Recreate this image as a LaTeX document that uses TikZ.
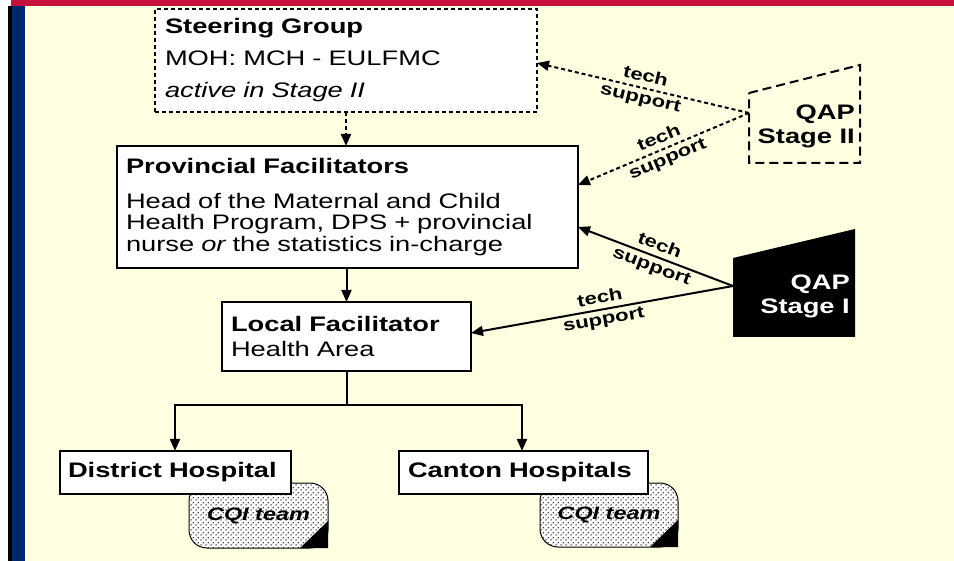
\documentclass[tikz,border=0pt]{standalone}
\usepackage{fontspec}
\setmainfont{Liberation Sans}[FakeStretch=1.3]
\usetikzlibrary{arrows.meta,patterns.meta}
\definecolor{cream}{RGB}{255,255,225}
\definecolor{barred}{RGB}{200,16,60}
\definecolor{navy}{RGB}{0,40,110}
\tikzdeclarepattern{name=cqidots, type=uncolored, bottom left={(0pt,0pt)}, top right={(5pt,5pt)}, tile size={(5pt,5pt)}, code={\fill (1.25pt,1.25pt) circle (0.85pt); \fill (3.75pt,3.75pt) circle (0.85pt);}}
\tikzset{
  box/.style={draw, line width=2pt, fill=white, anchor=north west, align=left, inner ysep=0pt, outer sep=0pt},
  bigtext/.style={font=\fontsize{21}{#1}\selectfont},
  tip/.style={-{Triangle[length=12pt,width=10pt]}},
  plainline/.style={line width=2pt},
  solidarr/.style={tip, line width=2pt},
  dotarr/.style={tip, line width=2pt, dash pattern=on 4pt off 3pt},
  lbl/.style={sloped, align=center, inner sep=0pt, font=\bfseries\fontsize{17}{22}\selectfont},
  cqi/.style={draw, line width=1pt, rounded corners=18pt, fill=white, anchor=north west, inner sep=0pt, outer sep=0pt,
    postaction={pattern=cqidots, pattern color=black}, font=\bfseries\itshape\fontsize{18}{20}\selectfont},
  qaptext/.style={align=right, anchor=north east, inner sep=0pt, font=\bfseries\fontsize{21}{24}\selectfont}
}
\begin{document}
\begin{tikzpicture}[x=1pt,y=-1pt]
\useasboundingbox (0,0) rectangle (954,561);
% background
\fill[white] (0,0) rectangle (954,561);
\fill[cream] (25,6) rectangle (954,561);
\fill[barred] (11,0) rectangle (954,6);
\fill[black] (8,6) rectangle (12,561);
\fill[navy] (12,6) rectangle (25,561);

% CQI team shapes (behind hospital boxes)
\node[cqi, minimum width=139pt, minimum height=65pt] (cqiA) at (189,483) {CQI team};
\fill (cqiA.south east) -- ++(0,-27) -- ++(-28,27) -- cycle;
\node[cqi, minimum width=138pt, minimum height=64pt] (cqiB) at (540,483) {CQI team};
\fill (cqiB.south east) -- ++(0,-27) -- ++(-28,27) -- cycle;

% boxes
\node[box, bigtext=32, dash pattern=on 4pt off 3pt, inner xsep=10pt, minimum width=382pt, minimum height=103pt, text width=362pt] (steer) at (155,9)
  {{\bfseries Steering Group}\\MOH: MCH - EULFMC\\{\itshape active in Stage II}};
\node[box, bigtext=21.5, inner xsep=9pt, minimum width=461pt, minimum height=122pt, text width=443pt] (prov) at (117,146)
  {{\bfseries Provincial Facilitators}\\[13.5pt]Head of the Maternal and Child\\Health Program, DPS + provincial\\nurse {\itshape or} the statistics in-charge};
\node[box, bigtext=25, inner xsep=9pt, minimum width=249pt, minimum height=69pt, text width=231pt] (local) at (222,302)
  {{\bfseries Local Facilitator}\\Health Area};
\node[box, bigtext=22, inner xsep=8pt, minimum width=231pt, minimum height=43pt, text width=215pt] (dist) at (60,451)
  {\bfseries District Hospital};
\node[box, bigtext=22, inner xsep=9pt, minimum width=249pt, minimum height=43pt, text width=231pt] (cant) at (399,451)
  {\bfseries Canton Hospitals};

% QAP shapes
\draw[line width=2pt, dash pattern=on 9pt off 5pt] (749,93) -- (860,65) -- (860,163) -- (749,163) -- cycle;
\node[qaptext] (qapII) at (855,105) {QAP\\Stage II};
\fill[black] (733,258) -- (855,229) -- (855,337) -- (733,337) -- cycle;
\node[qaptext, text=white] (qapI) at (850,275) {QAP\\Stage I};
\coordinate (q2) at (749,113);
\coordinate (q1) at (733,286);

% hierarchy connectors
\draw[dotarr] (steer.south) -- (steer.south |- prov.north);
\draw[solidarr] (prov.south -| local.north) -- (local.north);
\coordinate (jl) at (175,405);
\coordinate (jr) at (522,405);
\draw[plainline] (local.south) -- (local.south |- jl);
\draw[plainline, line cap=rect] (jl) -- (jr);
\draw[solidarr] (jl) -- (jl |- dist.north);
\draw[solidarr] (jr) -- (jr |- cant.north);

% tech support connectors
\draw[dotarr] (q2) -- node[lbl] {tech\\support} ([yshift=-54pt]steer.north east);
\draw[dotarr] (q2) -- node[lbl] {tech\\support} ([yshift=-39pt]prov.north east);
\draw[solidarr] (q1) -- node[lbl] {tech\\support} ([yshift=-81pt]prov.north east);
\draw[solidarr] (q1) -- node[lbl] {tech\\support} ([yshift=-31pt]local.north east);
\end{tikzpicture}
\end{document}
